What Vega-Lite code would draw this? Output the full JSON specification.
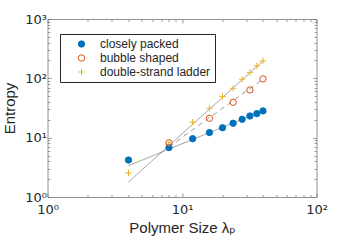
{
  "$schema": "https://vega.github.io/schema/vega-lite/v6.json",
  "width": 269,
  "height": 178,
  "autosize": {"type": "none"},
  "padding": {"left": 47.5, "top": 19, "right": 33.5, "bottom": 51},
  "background": "white",
  "config": {
    "view": {"stroke": null},
    "font": "Liberation Sans, DejaVu Sans",
    "axis": {
      "domainColor": "#777777",
      "domainWidth": 0.8,
      "tickColor": "#777777",
      "tickWidth": 0.7,
      "grid": false,
      "labelColor": "#262626",
      "labelFontSize": 13,
      "titleColor": "#262626",
      "titleFontSize": 15,
      "titleFontWeight": "normal",
      "labelFont": "DejaVu Sans",
      "titleFont": "Liberation Sans, DejaVu Sans"
    }
  },
  "layer": [
    {
      "data": {
        "values": [
          {"fit": "cp", "x": 4, "y": 3.37},
          {"fit": "cp", "x": 40, "y": 28.5},
          {"fit": "bs", "x": 8, "y": 7.0},
          {"fit": "bs", "x": 40, "y": 97},
          {"fit": "ds", "x": 4, "y": 1.79},
          {"fit": "ds", "x": 40, "y": 196}
        ]
      },
      "mark": {"type": "line", "color": "#808080", "strokeWidth": 0.8},
      "encoding": {
        "x": {
          "field": "x", "type": "quantitative",
          "scale": {"type": "log", "domain": [1, 100], "nice": false},
          "axis": {
            "orient": "top", "labels": false, "title": null,
            "values": [1,2,3,4,5,6,7,8,9,10,20,30,40,50,60,70,80,90,100],
            "tickSize": {"condition": {"test": "datum.value == 1 || datum.value == 10 || datum.value == 100", "value": -4}, "value": -2.5}
          }
        },
        "y": {
          "field": "y", "type": "quantitative",
          "scale": {"type": "log", "domain": [1, 1000], "nice": false},
          "axis": {
            "orient": "right", "labels": false, "title": null,
            "values": [1,2,3,4,5,6,7,8,9,10,20,30,40,50,60,70,80,90,100,200,300,400,500,600,700,800,900,1000],
            "tickSize": {"condition": {"test": "datum.value == 1 || datum.value == 10 || datum.value == 100 || datum.value == 1000", "value": -4}, "value": -2.5}
          }
        },
        "detail": {"field": "fit", "type": "nominal"},
        "strokeDash": {
          "field": "fit", "type": "nominal",
          "scale": {"domain": ["cp", "bs", "ds"], "range": [[1, 0], [5, 4], [1, 0]]},
          "legend": null
        }
      }
    },
    {
      "data": {
        "values": [
          {"series": "closely packed", "x": 4, "y": 4.2},
          {"series": "closely packed", "x": 8, "y": 6.8},
          {"series": "closely packed", "x": 12, "y": 9.6},
          {"series": "closely packed", "x": 16, "y": 12.2},
          {"series": "closely packed", "x": 20, "y": 14.7},
          {"series": "closely packed", "x": 24, "y": 17.5},
          {"series": "closely packed", "x": 28, "y": 20.4},
          {"series": "closely packed", "x": 32, "y": 23.2},
          {"series": "closely packed", "x": 36, "y": 25.4},
          {"series": "closely packed", "x": 40, "y": 28.2},
          {"series": "bubble shaped", "x": 8, "y": 8.2},
          {"series": "bubble shaped", "x": 16, "y": 21.2},
          {"series": "bubble shaped", "x": 24, "y": 39.5},
          {"series": "bubble shaped", "x": 32, "y": 63.7},
          {"series": "bubble shaped", "x": 40, "y": 97.7},
          {"series": "double-strand ladder", "x": 4, "y": 2.54},
          {"series": "double-strand ladder", "x": 8, "y": 8.2},
          {"series": "double-strand ladder", "x": 12, "y": 18.2},
          {"series": "double-strand ladder", "x": 16, "y": 31.3},
          {"series": "double-strand ladder", "x": 20, "y": 49.2},
          {"series": "double-strand ladder", "x": 24, "y": 68},
          {"series": "double-strand ladder", "x": 28, "y": 96.6},
          {"series": "double-strand ladder", "x": 32, "y": 126},
          {"series": "double-strand ladder", "x": 36, "y": 162},
          {"series": "double-strand ladder", "x": 40, "y": 196}
        ]
      },
      "mark": {"type": "point", "filled": false, "size": 40, "strokeWidth": 1, "opacity": 1},
      "encoding": {
        "x": {
          "field": "x", "type": "quantitative",
          "scale": {"type": "log", "domain": [1, 100], "nice": false},
          "axis": {
            "orient": "bottom",
            "title": "Polymer Size λₚ",
            "titlePadding": 3,
            "values": [1,2,3,4,5,6,7,8,9,10,20,30,40,50,60,70,80,90,100],
            "labelExpr": "datum.value == 1 ? '10⁰' : datum.value == 10 ? '10¹' : datum.value == 100 ? '10²' : ''",
            "labelPadding": 10,
            "labelFlush": false,
            "labelOverlap": false,
            "tickSize": {"condition": {"test": "datum.value == 1 || datum.value == 10 || datum.value == 100", "value": -4}, "value": -2.5}
          }
        },
        "y": {
          "field": "y", "type": "quantitative",
          "scale": {"type": "log", "domain": [1, 1000], "nice": false},
          "axis": {
            "orient": "left",
            "title": "Entropy",
            "titlePadding": 7,
            "values": [1,2,3,4,5,6,7,8,9,10,20,30,40,50,60,70,80,90,100,200,300,400,500,600,700,800,900,1000],
            "labelExpr": "datum.value == 1 ? '10⁰' : datum.value == 10 ? '10¹' : datum.value == 100 ? '10²' : datum.value == 1000 ? '10³' : ''",
            "labelPadding": 5,
            "labelFlush": false,
            "labelOverlap": false,
            "tickSize": {"condition": {"test": "datum.value == 1 || datum.value == 10 || datum.value == 100 || datum.value == 1000", "value": -4}, "value": -2.5}
          }
        },
        "shape": {
          "field": "series", "type": "nominal",
          "scale": {"domain": ["closely packed", "bubble shaped", "double-strand ladder"], "range": ["circle", "circle", "M-1,0H1M0,-1V1"]}
        },
        "stroke": {
          "field": "series", "type": "nominal",
          "scale": {"domain": ["closely packed", "bubble shaped", "double-strand ladder"], "range": ["#0072BD", "#D95319", "#EDB120"]},
          "legend": {
            "orient": "none", "legendX": 12.5, "legendY": 15, "title": null,
            "padding": 4, "strokeColor": "#262626", "fillColor": "white",
            "labelFontSize": 12, "labelColor": "#262626", "labelFont": "Liberation Sans, DejaVu Sans",
            "symbolOffset": 11.5, "labelOffset": 12.5, "rowPadding": 2,
            "symbolSize": 40, "symbolStrokeWidth": 1
          }
        },
        "fill": {
          "field": "series", "type": "nominal",
          "scale": {"domain": ["closely packed", "bubble shaped", "double-strand ladder"], "range": ["#0072BD", "rgba(255,255,255,0)", "rgba(255,255,255,0)"]}
        }
      }
    }
  ],
  "resolve": {"axis": {"x": "independent", "y": "independent"}}
}
